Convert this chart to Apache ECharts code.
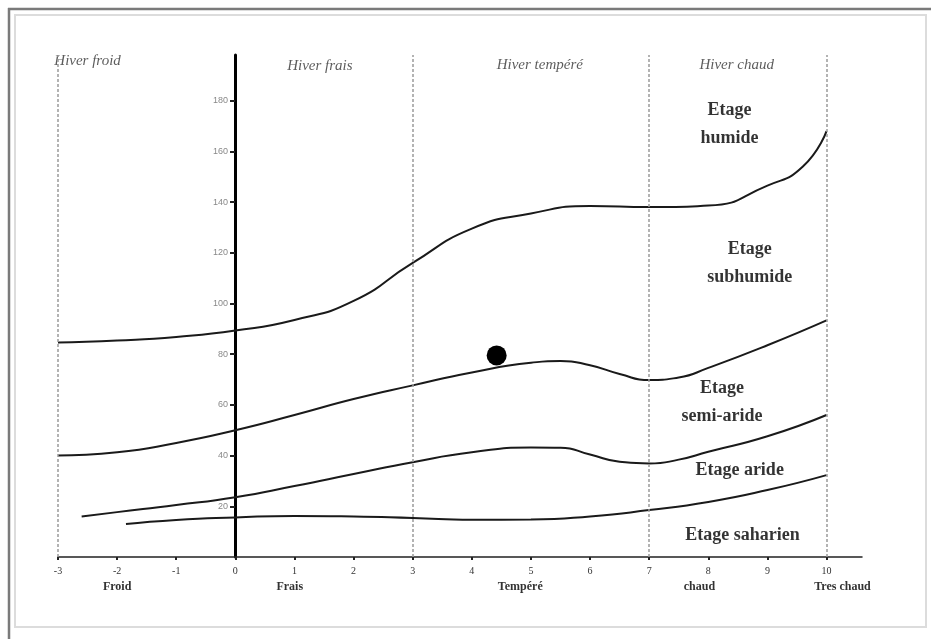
<!DOCTYPE html>
<html lang="fr">
<head>
  <meta charset="UTF-8">
  <title>Climagramme d'Emberger</title>
  <style>
    html,
    body,
    #main {
      margin: 0;
      padding: 0;
      background: #fff;
    }

    #main {
      width: 931px;
      height: 639px;
    }
  </style>
</head>
<body>
  <div id="main"></div>
  <script src="https://cdn.jsdelivr.net/npm/echarts@6/dist/echarts.min.js"></script>
  <script>
    // curves: [m (°C), Q2]
    const limiteHumide = [[-3, 84.6], [-2, 85.4], [-1, 86.8], [0, 89.3], [1, 93.5], [2, 101], [3, 116], [4, 129.5], [5, 135.5], [6, 138.4], [7, 138], [8, 138.6], [9, 146.5], [9.6, 154], [10, 168]];
    const limiteSubhumide = [[-3, 40], [-2, 41.3], [-1, 45], [0, 50], [1, 56], [2, 62.3], [3, 67.7], [4, 72.8], [5, 76.6], [5.5, 77.3], [6, 75.6], [6.5, 72.2], [7, 69.8], [7.5, 70.8], [8, 74.6], [9, 83.5], [10, 93.3]];
    const limiteSemiAride = [[-2.6, 16], [-2, 17.7], [-1, 20.5], [0, 23.6], [1, 28], [2, 32.7], [3, 37.4], [4, 41.3], [5, 43.2], [5.5, 43.1], [6, 40.4], [6.5, 37.6], [7, 36.9], [7.5, 38.4], [8, 41.5], [9, 47.6], [10, 56]];
    const limiteAride = [[-1.85, 13], [-1, 14.6], [0, 15.6], [1, 16.2], [2, 16], [3, 15.4], [4, 14.7], [5, 14.8], [6, 16], [7, 18.5], [8, 21.7], [9, 26.4], [10, 32.3]];
    const station = [[4.42, 79.5]];

    const xTicks = [-3, -2, -1, 0, 1, 2, 3, 4, 5, 6, 7, 8, 9, 10];
    const yTicks = [20, 40, 60, 80, 100, 120, 140, 160, 180];
    const limitesHiver = [-3, 3, 7, 10];

    const varianteNoms = ['Froid', 'Frais', 'Tempéré', 'chaud', 'Tres chaud'];
    const variantePos = [-2, 0.92, 4.82, 7.85, 10.27];

    const hiverNoms = ['Hiver froid', 'Hiver frais', 'Hiver tempéré', 'Hiver chaud'];
    const hiverPos = [[-2.5, 195.5], [1.43, 193.5], [5.15, 194], [8.48, 194]];

    const etageNoms = ['Etage\nhumide', 'Etage\nsubhumide', 'Etage\nsemi-aride', 'Etage aride', 'Etage saharien'];
    const etagePos = [[8.36, 170.5], [8.7, 115.7], [8.23, 61], [8.53, 34.3], [8.58, 8.7]];

    const serif = '"Liberation Serif", "DejaVu Serif", serif';

    const courbe = (data) => ({
      type: 'line',
      data: data,
      smooth: 0.55,
      showSymbol: false,
      silent: true,
      lineStyle: { color: '#1a1a1a', width: 2 },
      z: 3
    });

    const myChart = echarts.init(document.getElementById('main'));
    const option = {
      animation: false,
      backgroundColor: '#fff',
      grid: { left: 58, right: 69, top: 55, bottom: 82 },
      graphic: [
        { type: 'rect', shape: { x: 15, y: 15, width: 911, height: 612 }, style: { fill: 'none', stroke: '#dcdcdc', lineWidth: 2 }, silent: true },
        { type: 'line', shape: { x1: 8, y1: 9, x2: 931, y2: 9 }, style: { stroke: '#7a7a7a', lineWidth: 2.5 }, silent: true },
        { type: 'line', shape: { x1: 9, y1: 8, x2: 9, y2: 639 }, style: { stroke: '#7a7a7a', lineWidth: 2.5 }, silent: true }
      ],
      xAxis: [{
        type: 'value',
        min: -3,
        max: 10.6,
        interval: 1,
        splitLine: { show: false },
        axisLine: { onZero: false, lineStyle: { color: '#222', width: 1.5 } },
        axisTick: { length: 3, customValues: xTicks, lineStyle: { color: '#222', width: 2 } },
        axisLabel: { customValues: xTicks, color: '#333', fontFamily: serif, fontSize: 10, margin: 9 }
      }, {
        type: 'value',
        position: 'bottom',
        min: -3,
        max: 10.6,
        splitLine: { show: false },
        axisLine: { show: false },
        axisTick: { show: false },
        axisLabel: {
          customValues: variantePos,
          margin: 24,
          color: '#333',
          fontFamily: serif,
          fontSize: 12,
          fontWeight: 'bold',
          formatter: (v) => varianteNoms[variantePos.indexOf(v)] || ''
        }
      }],
      yAxis: {
        type: 'value',
        position: 'left',
        offset: -177,
        min: 0,
        max: 198,
        interval: 20,
        splitLine: { show: false },
        axisLine: { onZero: false, lineStyle: { color: '#000', width: 3 } },
        axisTick: { length: 5, customValues: yTicks, lineStyle: { color: '#222', width: 2 } },
        axisLabel: { customValues: yTicks, color: '#888', fontSize: 9, margin: 7, fontFamily: 'Arial, "Liberation Sans", sans-serif' }
      },
      series: [
        courbe(limiteHumide),
        courbe(limiteSubhumide),
        courbe(limiteSemiAride),
        courbe(limiteAride),
        {
          type: 'line',
          data: [],
          silent: true,
          markLine: {
            silent: true,
            symbol: 'none',
            label: { show: false },
            lineStyle: { color: '#9a9a9a', type: [3, 2], width: 1.5 },
            data: limitesHiver.map((v) => ({ xAxis: v }))
          }
        },
        {
          type: 'scatter',
          data: station,
          symbol: 'circle',
          symbolSize: 20,
          itemStyle: { color: '#000', opacity: 1 },
          z: 5
        },
        {
          type: 'scatter',
          data: hiverPos.map((p, i) => ({ value: p, name: hiverNoms[i] })),
          symbolSize: 0,
          silent: true,
          label: {
            show: true,
            position: 'inside',
            formatter: (p) => p.name,
            color: '#333',
            fontFamily: serif,
            fontStyle: 'italic',
            fontSize: 15
          }
        },
        {
          type: 'scatter',
          data: etagePos.map((p, i) => ({ value: p, name: etageNoms[i] })),
          symbolSize: 0,
          silent: true,
          label: {
            show: true,
            position: 'inside',
            formatter: (p) => p.name,
            color: '#000',
            fontFamily: serif,
            fontWeight: 'bold',
            fontSize: 18,
            lineHeight: 28,
            align: 'center'
          }
        }
      ]
    };

    myChart.setOption(option);
  </script>
</body>
</html>
